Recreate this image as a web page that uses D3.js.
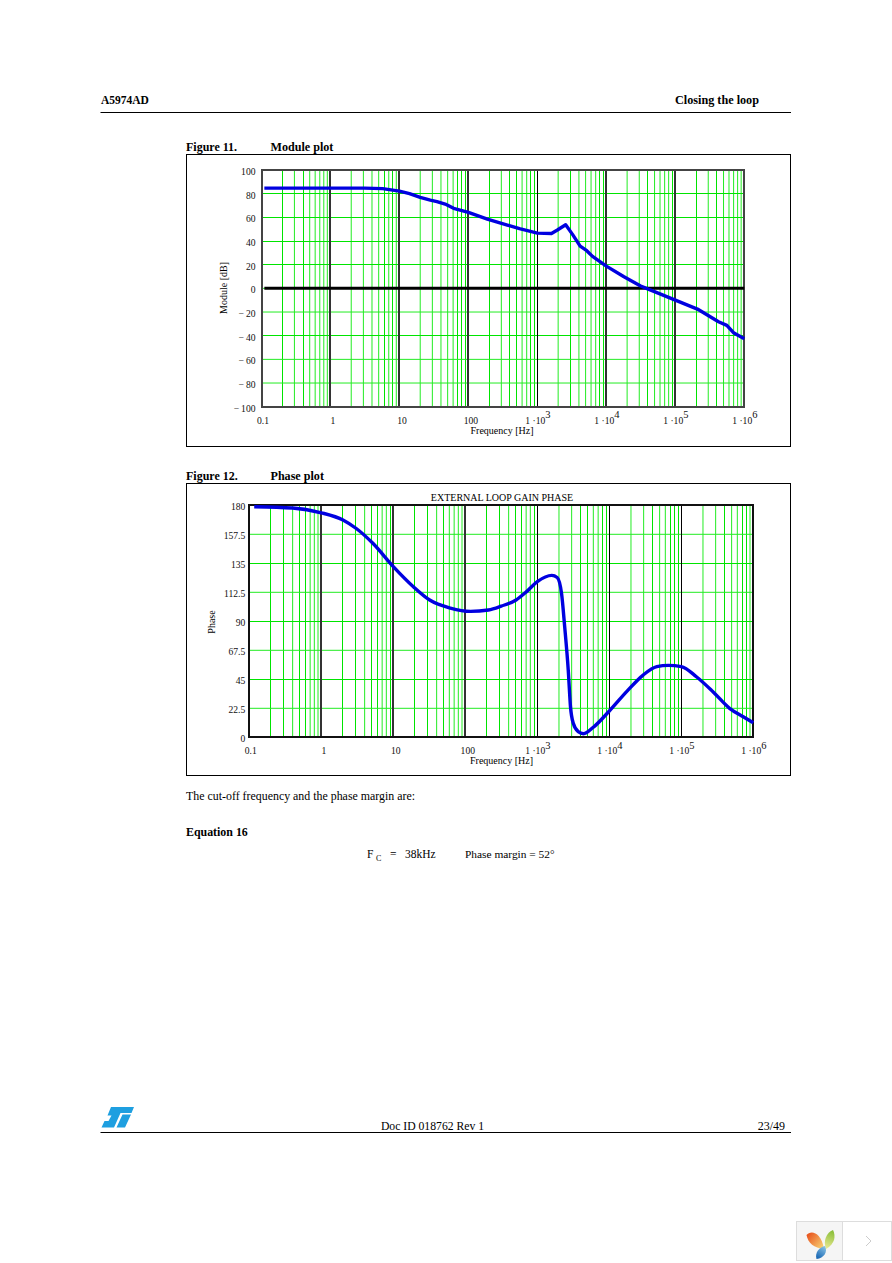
<!DOCTYPE html>
<html>
<head>
<meta charset="utf-8">
<script src="https://cdn.jsdelivr.net/npm/d3@7"></script>
<style>
  body { margin: 0; background: #fff; }
  svg { display: block; font-family: "Liberation Serif", serif; fill: #000; }
  .axis path, .axis line { display: none; }
  .axis text { font-family: "Liberation Serif", serif; font-size: 9.6px; fill: #111; }
</style>
</head>
<body>
<svg id="root" width="892" height="1263"></svg>
<script>
// values
const moduleFreq = [0.11, 3.1, 5.7, 10, 14, 20, 28, 35, 46, 61, 100, 188, 367, 550, 1000, 1600, 1950, 2570, 3230, 4170, 5200, 6300, 10000, 18000, 31400, 41400, 100000, 209000, 423000, 558000, 697000, 1000000];
const moduleDb = [84.7, 84.7, 84.3, 82.2, 80, 76.9, 74.5, 73.2, 71.2, 67.6, 64.2, 58.5, 53.5, 50.4, 46.7, 46.4, 49.3, 53.7, 45.6, 35.7, 31.8, 27, 18.8, 9.8, 2, -0.8, -9.9, -17.5, -28.2, -31.3, -37.5, -42.6];
const zeroFreq = [0.11, 1000000];
const zeroDb = [0, 0];

const phaseFreq = [0.117, 0.4, 1, 2, 3.06, 5.2, 10, 19, 32, 62, 118, 210, 316, 507, 716, 1000, 1590, 1890, 2170, 2400, 2690, 2890, 3160, 3700, 4370, 6000, 10000, 17400, 29500, 45700, 66000, 100000, 162000, 275000, 468000, 724000, 1000000];
const phaseDeg = [178.9, 177.9, 174.2, 168.6, 162, 150.5, 132.4, 116.8, 106.5, 100.3, 97.7, 98.8, 101.8, 106.5, 113.2, 120.7, 125.6, 124, 111.7, 85.8, 52.2, 23.7, 10.9, 4.4, 2.8, 7.8, 20.4, 35.4, 48.3, 54.8, 55.8, 54.8, 47, 35.4, 22.5, 16, 11.3];

const decades = [0.1, 1, 10, 100, 1000, 10000, 100000, 1000000];
const decadeLabels = ["0.1", "1", "10", "100", "1 ·10|3", "1 ·10|4", "1 ·10|5", "1 ·10|6"];
const minorSteps = [2, 3, 4, 5, 6, 7, 8, 9];
const moduleTicks = [100, 80, 60, 40, 20, 0, -20, -40, -60, -80, -100];
const phaseTicks = [180, 157.5, 135, 112.5, 90, 67.5, 45, 22.5, 0];

// grid lines that came out stronger in the scan, by panel
const moduleStrong = [0.2, 0.4, 6, 8, 70, 80, 90, 200, 400, 500, 800, 900, 3000, 8000, 9000, 40000, 90000, 200000, 400000];
const moduleStrongY = [80, 60, 40, 20, -40];
const phaseStrong = [0.2, 0.3, 0.5, 0.6, 2, 3, 5, 6, 9, 20, 30, 50, 200, 300, 500, 600, 900, 4000, 5000, 8000, 9000, 40000, 70000, 80000, 90000, 400000, 700000, 800000];
const phaseStrongY = [135, 90, 45];
const moduleHeavy = [1, 10, 100, 10000, 100000];
const phaseHeavy = [1, 10, 100];

const svg = d3.select("#root");

function textAt(x, y, str, size, bold, anchor) {
  return svg.append("text")
    .attr("x", x)
    .attr("y", y)
    .attr("font-size", size)
    .attr("font-weight", bold ? "bold" : "normal")
    .attr("text-anchor", anchor || "start")
    .text(str);
}

function rule(x1, x2, y) {
  svg.append("line").attr("x1", x1).attr("x2", x2).attr("y1", y).attr("y2", y)
    .attr("stroke", "#000").attr("stroke-width", 1);
}

// Page furniture
textAt(101, 104, "A5974AD", 11.5, true);
textAt(759, 104, "Closing the loop", 12.2, true, "end");
rule(100.5, 791, 112.5);
textAt(186, 151, "Figure 11.", 12, true);
textAt(270.5, 151, "Module plot", 12.1, true);
textAt(186, 480, "Figure 12.", 12, true);
textAt(270.5, 480, "Phase plot", 12.1, true);
textAt(186, 800, "The cut-off frequency and the phase margin are:", 11.9);
textAt(186, 836, "Equation 16", 11.9, true);
textAt(367, 858, "F", 11.5);
textAt(376, 861, "C", 8);
textAt(390, 858, "=", 11.5);
textAt(405, 858, "38kHz", 11.5);
textAt(465, 858, "Phase margin = 52°", 11.4);
textAt(432.5, 1130, "Doc ID 018762 Rev 1", 11.7, false, "middle");
textAt(785, 1130, "23/49", 12, false, "end");
rule(100.5, 791, 1132.5);

const near = (list, d) => list.some(v => Math.abs(v / d - 1) < 1e-6);

// One Bode panel: frame, log grid, axes, curves
function bodePlot(o) {
  svg.append("rect")
    .attr("x", 186.5).attr("y", o.box[0] + 0.5)
    .attr("width", 604).attr("height", o.box[1] - o.box[0])
    .attr("fill", "none").attr("stroke", "#000");

  const x = d3.scaleLog([0.1, 1000000], [o.left, o.right]);
  const y = d3.scaleLinear(o.domain, [o.bottom, o.top]);
  const g = svg.append("g");
  const crisp = strong => strong ? "crispEdges" : "auto";

  // minor verticals, 2..9 per decade
  const minors = decades.slice(0, -1).flatMap(d => minorSteps.map(m => d * m));
  g.selectAll(".vminor").data(minors).join("line")
    .attr("x1", d => x(d)).attr("x2", d => x(d))
    .attr("y1", o.top).attr("y2", o.bottom)
    .attr("shape-rendering", d => crisp(near(o.strong, d)))
    .attr("stroke", d => near(o.strong, d) ? "#00e400" : "#22ec22");
  g.selectAll(".hgrid").data(o.ticks.slice(1, -1)).join("line")
    .attr("x1", o.left).attr("x2", o.right)
    .attr("y1", d => y(d)).attr("y2", d => y(d))
    .attr("shape-rendering", d => crisp(o.strongY.includes(d)))
    .attr("stroke", d => o.strongY.includes(d) ? "#00e400" : "#22ec22");
  g.selectAll(".vmajor").data(decades.slice(1, -1)).join("line")
    .attr("x1", d => x(d)).attr("x2", d => x(d))
    .attr("y1", o.top).attr("y2", o.bottom)
    .attr("shape-rendering", "crispEdges")
    .attr("stroke", d => near(o.heavy, d) ? "#333" : "#000")
    .attr("stroke-width", d => near(o.heavy, d) ? 2 : 1);
  g.append("rect")
    .attr("x", o.left).attr("y", o.top)
    .attr("width", o.right - o.left).attr("height", o.bottom - o.top)
    .attr("shape-rendering", "crispEdges")
    .attr("fill", "none").attr("stroke", o.frame).attr("stroke-width", 2);

  const line = d3.line().x(d => x(d[0])).y(d => y(d[1]));
  o.curves.forEach(c => {
    svg.append("path")
      .attr("fill", "none")
      .attr("stroke", c.color)
      .attr("stroke-width", c.width)
      .attr("stroke-linejoin", "round")
      .attr("d", line.curve(c.curve)(d3.zip(c.xs, c.ys)));
  });

  // axes
  const xAxis = svg.append("g").attr("class", "axis")
    .attr("transform", `translate(0,${o.bottom})`)
    .call(d3.axisBottom(x).tickValues(decades).tickSize(0).tickPadding(o.xPad)
      .tickFormat((d, i) => decadeLabels[i]));
  xAxis.selectAll("text").attr("dx", (d, i) => i == 0 ? 1 : 2).each(function () {
    const parts = d3.select(this).text().split("|");
    if (parts.length > 1) {
      const t = d3.select(this).attr("dx", 0).text(parts[0]);
      t.append("tspan").attr("dy", "-0.5em").attr("font-size", "10.5px").text(parts[1]);
    }
  });
  svg.append("g").attr("class", "axis")
    .attr("transform", `translate(${o.left},1.5)`)
    .call(d3.axisLeft(y).tickValues(o.ticks).tickSize(0).tickPadding(o.yPad)
      .tickFormat(d => String(d).replace("-", "−\u2009")));

  textAt(o.freqX, o.freqY, "Frequency [Hz]", 10, false, "middle");
  svg.append("text")
    .attr("transform", `translate(${o.labelX},${o.labelY}) rotate(-90)`)
    .attr("text-anchor", "middle")
    .attr("font-size", 10)
    .text(o.label);
}

bodePlot({
  box: [154, 446], left: 261.5, right: 744.3, top: 170, bottom: 406.7,
  domain: [-100, 100], ticks: moduleTicks, xPad: 10, yPad: 6, frame: "#444",
  strong: moduleStrong, strongY: moduleStrongY, heavy: moduleHeavy,
  freqX: 502, freqY: 434, label: "Module [dB]", labelX: 227, labelY: 288,
  curves: [
    { xs: zeroFreq, ys: zeroDb, color: "#000", width: 3, curve: d3.curveLinear },
    { xs: moduleFreq, ys: moduleDb, color: "#0000e0", width: 3.4, curve: d3.curveLinear }
  ]
});

bodePlot({
  box: [483, 775], left: 249.3, right: 753.3, top: 505.3, bottom: 737.3,
  domain: [0, 180], ticks: phaseTicks, xPad: 10, yPad: 4, frame: "#111",
  strong: phaseStrong, strongY: phaseStrongY, heavy: phaseHeavy,
  freqX: 501.5, freqY: 764, label: "Phase", labelX: 215, labelY: 622,
  curves: [
    { xs: phaseFreq, ys: phaseDeg, color: "#0000e0", width: 3.4, curve: d3.curveMonotoneX }
  ]
});
textAt(502, 501, "EXTERNAL LOOP GAIN PHASE", 10, false, "middle");

// ST logo
svg.append("path")
  .attr("fill", "#1e9fe0")
  .attr("d", "M111 1107H134L131.5 1113H120.5L114 1127.5H101.5L104.5 1121H108.5L111.5 1115.5H107.5ZM122.5 1114.5H131L125 1127.5H116.5Z");

// Viewer widget bottom right
const defs = svg.append("defs");
function grad(id, x1, y1, x2, y2, from, to) {
  const lg = defs.append("linearGradient").attr("id", id)
    .attr("gradientUnits", "userSpaceOnUse")
    .attr("x1", x1).attr("y1", y1).attr("x2", x2).attr("y2", y2);
  lg.append("stop").attr("offset", 0).attr("stop-color", from);
  lg.append("stop").attr("offset", 1).attr("stop-color", to);
}
grad("petalOrange", 807, 1234, 824, 1248, "#e8501c", "#f8d878");
grad("petalGreen", 833, 1230, 826, 1248, "#84bc34", "#e8e890");
grad("petalBlue", 817, 1259, 826, 1246, "#1060b0", "#90c8e8");

svg.append("rect").attr("x", 796.5).attr("y", 1221.5).attr("width", 95).attr("height", 39)
  .attr("fill", "#fff").attr("stroke", "#ddd");
svg.append("rect").attr("x", 797).attr("y", 1222).attr("width", 45).attr("height", 38)
  .attr("fill", "#f5f5f5");
svg.append("line").attr("x1", 842.5).attr("x2", 842.5).attr("y1", 1222).attr("y2", 1260).attr("stroke", "#ddd");
svg.append("path").attr("fill", "url(#petalOrange)").attr("d", "M806.5 1235C811 1230 821 1232 824 1249C814 1248 808 1243 806.5 1235Z");
svg.append("path").attr("fill", "url(#petalGreen)").attr("d", "M833 1230C836 1236 835 1244 826 1249C823 1241 826 1233 833 1230Z");
svg.append("path").attr("fill", "url(#petalBlue)").attr("d", "M816.5 1259C814.5 1252 820 1247 825 1246C828 1252 824 1258 816.5 1259Z");
svg.append("path").attr("fill", "none").attr("stroke", "#ccc").attr("stroke-width", 1).attr("d", "M866 1236L871 1241L866 1246");
</script>
</body>
</html>
